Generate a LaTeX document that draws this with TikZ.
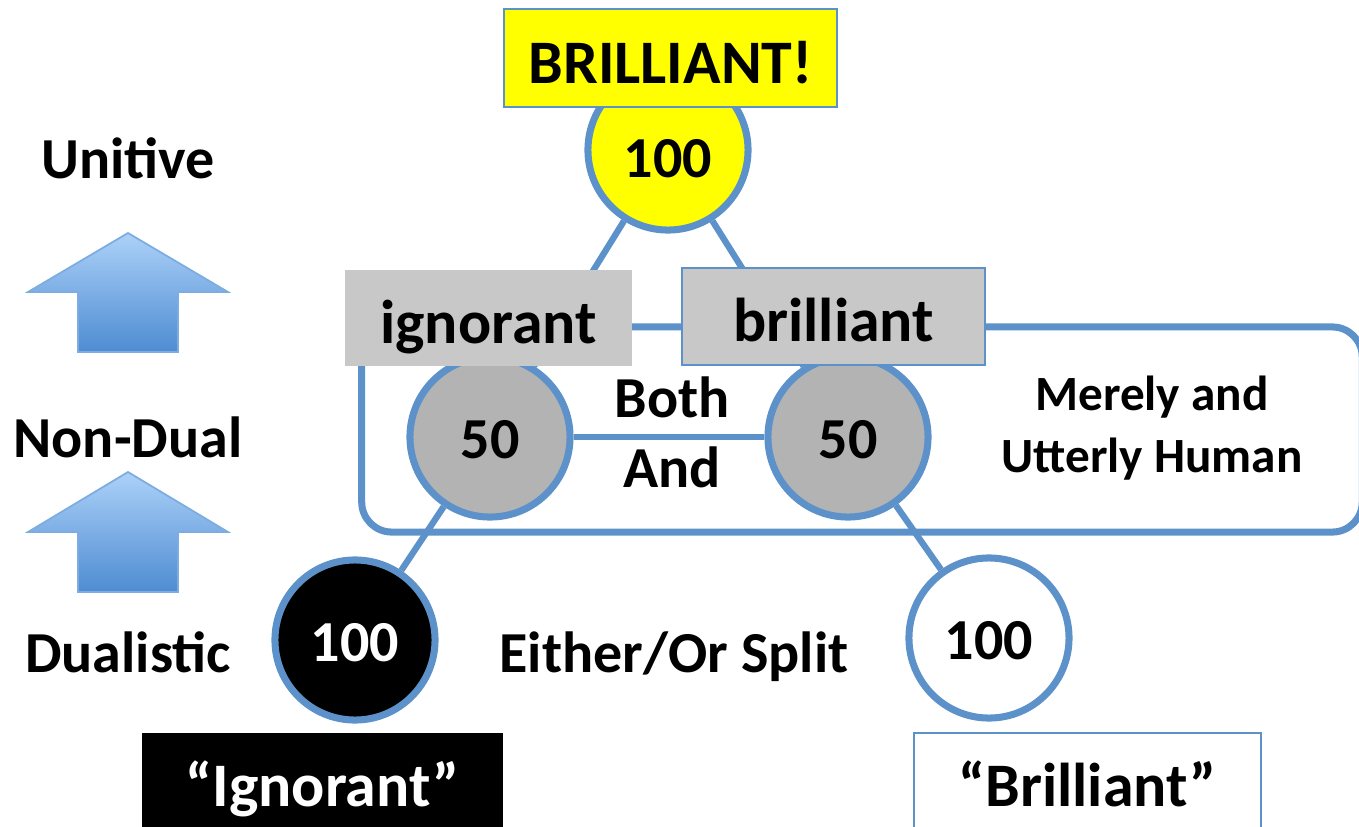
\documentclass[tikz,border=0pt]{standalone}
\usepackage{fontspec}
\setmainfont{Carlito}
\pgfdeclarelayer{background}
\pgfsetlayers{background,main}
\definecolor{lineblue}{RGB}{92,146,201}
\definecolor{boxgray}{RGB}{200,200,200}
\definecolor{circgray}{RGB}{179,179,179}
\definecolor{arrowtop}{RGB}{172,209,248}
\definecolor{arrowbot}{RGB}{78,140,210}
\definecolor{arrowedge}{RGB}{125,172,225}
\definecolor{brightyellow}{RGB}{255,255,0}
\tikzset{
  lbl/.style={font=\fontsize{16.5}{19.9}\selectfont\bfseries, align=center, inner sep=0pt},
  mlbl/.style={font=\fontsize{14}{17.4}\selectfont\bfseries, align=center, inner sep=0pt},
  numcirc/.style={circle, draw=lineblue, line width=2pt, minimum size=1.6cm, inner sep=0pt,
    font=\fontsize{16.5}{19.9}\selectfont\bfseries, text height=0.42cm, text depth=0cm},
  conn/.style={draw=lineblue, line width=1.8pt},
  wordbox/.style={rectangle, inner sep=0pt, font=\fontsize{17.6}{21}\selectfont\bfseries,
    text height=0.5cm, text depth=0cm},
  thinedge/.style={draw=lineblue, line width=0.5pt},
  uparrow/.style={top color=arrowtop, bottom color=arrowbot, draw=arrowedge, line width=0.5pt}
}
\begin{document}
\begin{tikzpicture}[x=0.01cm, y=-0.01cm]
\useasboundingbox (0,0) rectangle (1359,827);
\clip (0,0) rectangle (1359,827);

% side labels and arrows
\node[lbl] (unitive) at (128,158) {Unitive};
\node[lbl] (nondual) at (128,437) {Non-Dual};
\node[lbl] (dualistic) at (128,652) {Dualistic};
\shadedraw[uparrow] (128,233) -- (228,292) -- (178,292) -- (178,352) -- (78,352) -- (78,292) -- (28,292) -- cycle;
\shadedraw[uparrow] (128,472) -- (228,532) -- (178,532) -- (178,592) -- (78,592) -- (78,532) -- (28,532) -- cycle;

% circles
\node[numcirc, fill=brightyellow, text height=0.54cm] (top) at (668,150) {100};
\node[numcirc, fill=circgray] (lhalf) at (490,437) {50};
\node[numcirc, fill=circgray] (rhalf) at (848,437) {50};
\node[numcirc, fill=black, text=white] (blackc) at (355,640) {100};
\node[numcirc, fill=white] (whitec) at (989,638) {100};

% boxes
\node[wordbox, fill=brightyellow, thinedge, minimum width=3.33cm, minimum height=0.98cm] (brilliantbang) at (670.5,58) {BRILLIANT!};
\node[wordbox, fill=boxgray, minimum width=2.87cm, minimum height=0.96cm] (ignorantbox) at (488.5,318) {ignorant};
\node[wordbox, fill=boxgray, thinedge, minimum width=3.03cm, minimum height=0.97cm] (brilliantbox) at (833.5,316.5) {brilliant};
\node[wordbox, fill=black, text=white, text height=0.32cm, minimum width=3.61cm, minimum height=1.14cm] (ignq) at (322.5,790) {“Ignorant”};
\node[wordbox, fill=white, thinedge, text height=0.32cm, minimum width=3.47cm, minimum height=1.14cm] (brilq) at (1087.5,790) {“Brilliant”};

% middle labels
\node[lbl] (bothand) at (672,432) {Both\\And};
\node[mlbl] (merely) at (1152,428) {Merely and\\Utterly Human};
\node[lbl] (either) at (674,657) {Either/Or Split};

\begin{pgfonlayer}{background}
  \node[draw=lineblue, line width=2pt, rounded corners=0.3cm, minimum width=10cm, minimum height=2.05cm, inner sep=0pt] (human) at (862,429.5) {};
  \draw[conn] (top) -- (lhalf);
  \draw[conn] (top) -- (rhalf);
  \draw[conn] (lhalf) -- (rhalf);
  \draw[conn] (lhalf) -- (blackc);
  \draw[conn] (rhalf) -- (whitec);
\end{pgfonlayer}
\end{tikzpicture}
\end{document}
